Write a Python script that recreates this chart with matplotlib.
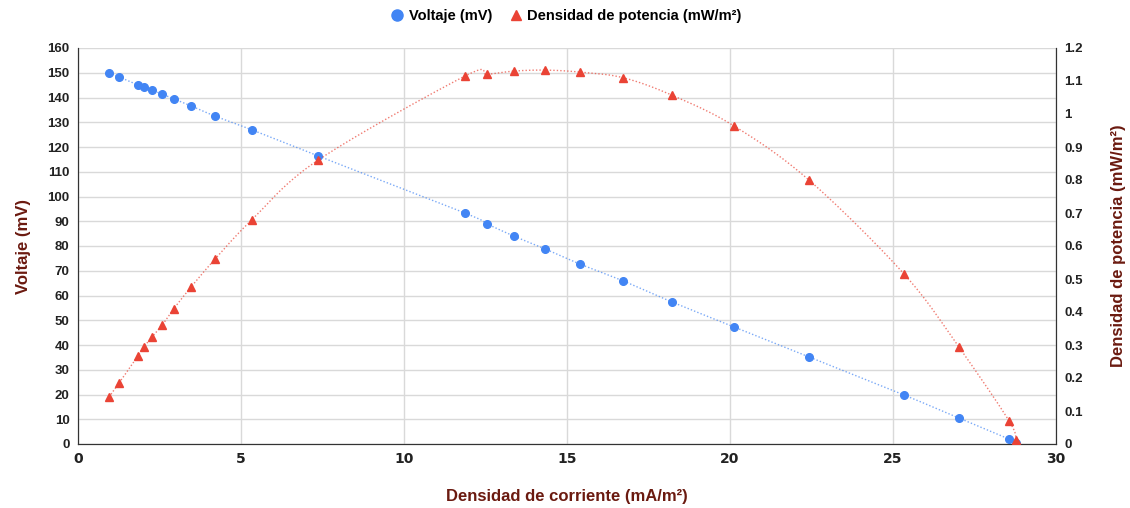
import numpy as np
import matplotlib
matplotlib.use("Agg")
import matplotlib.pyplot as plt
from matplotlib.lines import Line2D

current = [0.95, 1.26, 1.84, 2.02, 2.27, 2.58, 2.94, 3.47, 4.20, 5.34, 7.36,
           11.87, 12.55, 13.37, 14.33, 15.40, 16.72, 18.22, 20.12, 22.42,
           25.34, 27.02, 28.56, 28.77]
voltage = [149.9, 148.3, 145.0, 144.2, 143.0, 141.4, 139.4, 136.6, 132.5, 126.9,
           116.4, 93.3, 88.9, 84.0, 78.8, 72.7, 65.9, 57.4, 47.3, 35.2,
           19.8, 10.5, 2.0, 0.4]
power = [0.142, 0.185, 0.267, 0.294, 0.324, 0.360, 0.410, 0.476, 0.560, 0.680,
         0.860, 1.115, 1.120, 1.130, 1.133, 1.127, 1.110, 1.057, 0.964, 0.800,
         0.515, 0.294, 0.070, 0.012]

x_ticks = [0, 5, 10, 15, 20, 25, 30]
y_ticks = list(range(0, 161, 10))
y2_ticks = [round(0.1 * i, 1) for i in range(13)]

BLUE = "#4285F4"
RED = "#EA4335"
TITLE_C = "#6b1a10"
FONT = "Liberation Sans"


def smooth(xs, ys, n=20):
    xs = np.asarray(xs, float); ys = np.asarray(ys, float)
    px, py = [], []
    for i in range(len(xs) - 1):
        x0, x1 = xs[i], xs[i + 1]
        y0, y1 = ys[i], ys[i + 1]
        xm = xs[i - 1] if i > 0 else x0
        ym = ys[i - 1] if i > 0 else y0
        xp = xs[i + 2] if i + 2 < len(xs) else x1
        yp = ys[i + 2] if i + 2 < len(xs) else y1
        t = np.linspace(0, 1, n, endpoint=False)
        k = 1 / 6
        c1x, c1y = x0 + (x1 - xm) * k, y0 + (y1 - ym) * k
        c2x, c2y = x1 - (xp - x0) * k, y1 - (yp - y0) * k
        bx = (1 - t) ** 3 * x0 + 3 * (1 - t) ** 2 * t * c1x + 3 * (1 - t) * t ** 2 * c2x + t ** 3 * x1
        by = (1 - t) ** 3 * y0 + 3 * (1 - t) ** 2 * t * c1y + 3 * (1 - t) * t ** 2 * c2y + t ** 3 * y1
        px.extend(bx); py.extend(by)
    px.append(xs[-1]); py.append(ys[-1])
    return px, py


fig = plt.figure(figsize=(11.3, 5.08), dpi=100)
ax = fig.add_axes([78 / 1130, 1 - 444 / 508, (1056 - 78) / 1130, (444 - 48) / 508])
ax2 = ax.twinx()

ax.set_xlim(0, 30)
ax.set_ylim(0, 160)
ax2.set_ylim(0, 1.2)
ax.set_xticks(x_ticks)
ax.set_yticks(y_ticks)
ax2.set_yticks(y2_ticks)
ax2.set_yticklabels([("%g" % v) for v in y2_ticks])

ax.grid(True, color="#d9d9d9", linewidth=1)
ax.set_axisbelow(True)
for s in ["top"]:
    ax.spines[s].set_visible(False)
    ax2.spines[s].set_visible(False)
for a in (ax, ax2):
    a.spines["left"].set_color("#333333")
    a.spines["bottom"].set_color("#333333")
    a.spines["right"].set_color("#333333")
ax.tick_params(length=0, pad=6)
ax2.tick_params(length=0, pad=6)
for lab in ax.get_yticklabels() + ax2.get_yticklabels():
    lab.set_fontfamily(FONT); lab.set_fontweight("bold"); lab.set_fontsize(9.5); lab.set_color("#222222")
for lab in ax.get_xticklabels():
    lab.set_fontfamily("DejaVu Sans"); lab.set_fontweight("bold"); lab.set_fontsize(10); lab.set_color("#222222")

sx, sy = smooth(current, voltage)
ax.plot(sx, sy, color=BLUE, linestyle=(0, (1, 1.5)), linewidth=1, alpha=0.7, zorder=3)
ax.plot(current, voltage, "o", color=BLUE, markersize=5.5, zorder=4)
sx2, sy2 = smooth(current, power)
ax2.plot(sx2, sy2, color=RED, linestyle=(0, (1, 1.5)), linewidth=1, alpha=0.7, zorder=3)
ax2.plot(current, power, "^", color=RED, markersize=6, zorder=4)

ax.set_xlabel("Densidad de corriente (mA/m²)", fontfamily=FONT, fontweight="bold",
              fontsize=12, color=TITLE_C, labelpad=16)
ax.set_ylabel("Voltaje (mV)", fontfamily=FONT, fontweight="bold", fontsize=12,
              color=TITLE_C, labelpad=12)
ax2.set_ylabel("Densidad de potencia (mW/m²)", fontfamily=FONT, fontweight="bold",
               fontsize=12, color=TITLE_C, labelpad=20)

handles = [Line2D([], [], marker="o", color=BLUE, linestyle="none", markersize=8),
           Line2D([], [], marker="^", color=RED, linestyle="none", markersize=7)]
fig.legend(handles, ["Voltaje (mV)", "Densidad de potencia (mW/m²)"], loc="center",
           bbox_to_anchor=(565 / 1130, 1 - 16 / 508), ncol=2, frameon=False,
           prop={"family": FONT, "weight": "bold", "size": 10.5},
           handletextpad=0.2, columnspacing=1.0, handlelength=1.2)

fig.savefig("out.png", dpi=100)
